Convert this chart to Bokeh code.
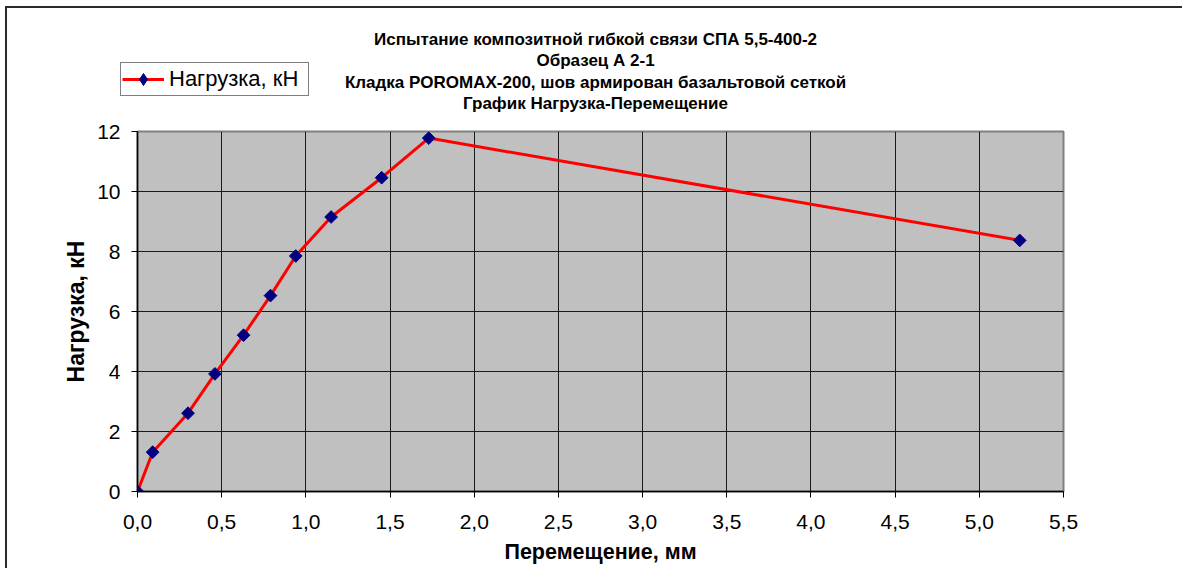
import math
from bokeh.plotting import figure
from bokeh.layouts import column
from bokeh.models import Range1d, FixedTicker, Legend, LegendItem, ColumnDataSource
from bokeh.core.properties import value
from bokeh.embed import file_html
from bokeh.resources import INLINE

# ---- data ----
displacement_mm = [0.0, 0.09, 0.30, 0.46, 0.63, 0.79, 0.94, 1.15, 1.45, 1.73, 5.24]
load_kN = [0.0, 1.31, 2.61, 3.92, 5.21, 6.53, 7.85, 9.15, 10.46, 11.78, 8.37]

x_ticks = [0.0, 0.5, 1.0, 1.5, 2.0, 2.5, 3.0, 3.5, 4.0, 4.5, 5.0, 5.5]
x_tick_labels = ["0,0", "0,5", "1,0", "1,5", "2,0", "2,5", "3,0", "3,5", "4,0", "4,5", "5,0", "5,5"]
y_ticks = [0, 2, 4, 6, 8, 10, 12]
y_tick_labels = ["0", "2", "4", "6", "8", "10", "12"]

title_lines = [
    "Испытание композитной гибкой связи СПА 5,5-400-2",
    "Образец А 2-1",
    "Кладка POROMAX-200, шов армирован базальтовой сеткой",
    "График Нагрузка-Перемещение",
]
series_name = "Нагрузка, кН"
x_title = "Перемещение, мм"
y_title = "Нагрузка, кН"

FONT = "Liberation Sans"
W = 1175
TOP_H = 108
LINE_COLOR = "#FF0000"
MARK_COLOR = "#000080"

src = ColumnDataSource(dict(x=displacement_mm, y=load_kN))

# ---------------- header (titles + legend) ----------------
top = figure(width=W, height=TOP_H, x_range=Range1d(0, W), y_range=Range1d(TOP_H, 0),
             output_backend="svg", toolbar_location=None, min_border=0,
             x_axis_location=None, y_axis_location=None,
             outline_line_color=None, background_fill_color="white",
             border_fill_color="white")
top.grid.visible = False
top.frame_align = False

title_src = ColumnDataSource(dict(x=[588] * len(title_lines),
                                  y=[30.5, 52.0, 73.7, 95.3],
                                  text=title_lines))
top.text("x", "y", text="text", source=title_src, text_font=value(FONT),
         text_font_style="bold", text_font_size="17px", text_color="black",
         text_align="center", text_baseline="middle")

# legend proxies: hidden copies of the series, used only for the legend swatch
pl = top.line("x", "y", source=src, line_color=LINE_COLOR, line_width=3, visible=False)
ps = top.scatter("x", "y", source=src, marker="diamond", size=13,
                 fill_color=MARK_COLOR, line_color=MARK_COLOR, visible=False)
legend = Legend(items=[LegendItem(label=series_name, renderers=[pl, ps])],
                location=(113, 20), orientation="vertical",
                border_line_color="black", border_line_width=1,
                background_fill_color="white", background_fill_alpha=1,
                inactive_fill_alpha=0,
                label_text_font=FONT, label_text_font_size="22px",
                label_text_color="black", label_width=138,
                glyph_width=42, glyph_height=30, label_standoff=5,
                padding=1, margin=0, spacing=0)
top.add_layout(legend, "center")

# ---------------- main chart ----------------
p = figure(
    width=W, height=452,
    x_range=Range1d(0, 5.5), y_range=Range1d(0, 12),
    output_backend="svg", toolbar_location=None,
    background_fill_color="#C0C0C0",
    border_fill_color="white",
    min_border_left=130, min_border_right=119,
    min_border_top=15, min_border_bottom=77,
)
p.frame_align = False
p.outline_line_color = "#808080"
p.outline_line_width = 2

p.xgrid.ticker = FixedTicker(ticks=x_ticks)
p.ygrid.ticker = FixedTicker(ticks=y_ticks)
for g in (p.xgrid, p.ygrid):
    g.grid_line_color = "#1a1a1a"
    g.grid_line_width = 1

p.xaxis.ticker = FixedTicker(ticks=x_ticks)
p.xaxis.major_label_overrides = {t: l for t, l in zip(x_ticks, x_tick_labels)}
p.yaxis.ticker = FixedTicker(ticks=y_ticks)
p.yaxis.major_label_overrides = {t: l for t, l in zip(y_ticks, y_tick_labels)}
for ax in (p.xaxis, p.yaxis):
    ax.axis_line_color = "black"
    ax.axis_line_width = 1.5
    ax.major_tick_line_color = "black"
    ax.major_tick_out = 6
    ax.major_tick_in = 0
    ax.minor_tick_line_color = None
    ax.major_label_text_font = FONT
    ax.major_label_text_font_size = "21px"
    ax.major_label_text_color = "black"
    ax.axis_label_text_font = FONT
    ax.axis_label_text_font_style = "bold"
    ax.axis_label_text_color = "black"
p.xaxis.axis_label = x_title
p.yaxis.axis_label = y_title
p.xaxis.axis_label_text_font_size = "21.5px"
p.yaxis.axis_label_text_font_size = "23px"
p.xaxis.major_label_standoff = 17
p.yaxis.major_label_standoff = 11
p.xaxis.axis_label_standoff = 8
p.yaxis.axis_label_standoff = 5

p.line("x", "y", source=src, line_color=LINE_COLOR, line_width=3)
p.scatter("x", "y", source=src, marker="square", size=9, angle=math.pi / 4,
          fill_color=MARK_COLOR, line_color=MARK_COLOR)

layout = column(top, p, spacing=0,
                styles={"margin-left": "5px", "margin-top": "6px",
                        "border-top": "2px solid #2a2a2a",
                        "border-left": "2px solid #2a2a2a"})

open("out.html", "w").write(file_html(layout, INLINE))
